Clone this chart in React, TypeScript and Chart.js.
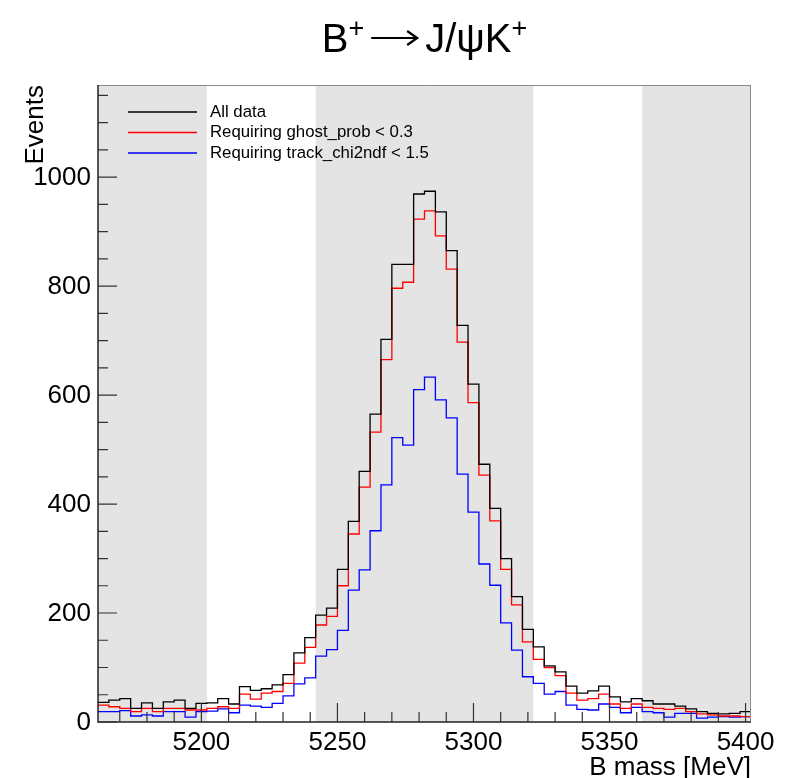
import React, { useEffect, useRef } from "react";
import { Chart, registerables } from "chart.js";

Chart.register(...registerables);

const X_MIN = 5162;
const X_MAX = 5402;
const BIN_WIDTH = 4;
const Y_MIN = 0;
const Y_MAX = 1169;

const allData = [
  36, 40, 43, 25, 35, 25, 37, 40, 25, 34,
  35, 43, 33, 65, 58, 61, 68, 87, 127, 155,
  196, 209, 280, 368, 460, 565, 702, 840, 840, 969,
  974, 936, 865, 728, 620, 473, 392, 300, 230, 170,
  138, 103, 92, 66, 53, 57, 66, 46, 37, 43,
  39, 33, 33, 29, 24, 19, 16, 15, 16, 19,
];
const ghostProbCut = [
  31, 28, 25, 19, 25, 19, 25, 25, 22, 22,
  25, 28, 25, 51, 42, 53, 56, 71, 108, 137,
  178, 194, 250, 345, 431, 532, 665, 796, 807, 923,
  938, 892, 831, 697, 586, 453, 369, 280, 215, 147,
  115, 100, 85, 53, 40, 43, 51, 33, 25, 33,
  27, 25, 23, 25, 19, 15, 13, 11, 11, 10,
];
const trackChi2Cut = [
  19, 19, 21, 11, 13, 11, 19, 19, 9, 19,
  20, 24, 17, 31, 29, 27, 34, 48, 70, 81,
  121, 133, 168, 242, 279, 351, 435, 522, 508, 610,
  633, 591, 558, 455, 385, 290, 251, 182, 132, 83,
  71, 51, 56, 31, 23, 22, 33, 27, 17, 27,
  19, 17, 9, 16, 16, 7, 9, 10, 9, 10,
];

const xTickLabels = [5200, 5250, 5300, 5350, 5400];
const xMinorStep = 10;
const yTickLabels = [0, 200, 400, 600, 800, 1000];
const yMinorStep = 50;
const bands = [
  [5162, 5202],
  [5242, 5322],
  [5362, 5402],
];
const seriesLabels = [
  "All data",
  "Requiring ghost_prob < 0.3",
  "Requiring track_chi2ndf < 1.5",
];
const seriesColors = ["#000000", "#ff0000", "#0000ff"];
const xTitle = "B mass [MeV]";
const yTitle = "Events";

const FONT = '"Liberation Sans", Arial, Helvetica, sans-serif';

function toSteps(values: number[]) {
  const pts = values.map((v, i) => ({ x: X_MIN + i * BIN_WIDTH, y: v }));
  pts.push({ x: X_MIN + values.length * BIN_WIDTH, y: values[values.length - 1] });
  return pts;
}

const rootPlugin = {
  id: "rootStyle",
  beforeDatasetsDraw(chart: any) {
    const { ctx, chartArea, scales } = chart;
    const xs = scales.x;
    ctx.save();
    ctx.fillStyle = "#e4e4e4";
    for (const [a, b] of bands) {
      const x0 = xs.getPixelForValue(a);
      const x1 = xs.getPixelForValue(b);
      ctx.fillRect(x0, chartArea.top, x1 - x0, chartArea.bottom - chartArea.top);
    }
    ctx.restore();
  },
  afterDatasetsDraw(chart: any) {
    const { ctx, chartArea, scales } = chart;
    const xs = scales.x;
    const ys = scales.y;
    const L = chartArea.left, R = chartArea.right, T = chartArea.top, B = chartArea.bottom;
    ctx.save();
    // frame
    ctx.lineWidth = 1;
    ctx.strokeStyle = "#8a8a8a";
    ctx.beginPath();
    ctx.moveTo(L, T + 0.5);
    ctx.lineTo(R, T + 0.5);
    ctx.moveTo(R - 0.5, T);
    ctx.lineTo(R - 0.5, B);
    ctx.stroke();
    ctx.strokeStyle = "#222";
    ctx.lineWidth = 1.5;
    ctx.beginPath();
    ctx.moveTo(L, T);
    ctx.lineTo(L, B);
    ctx.lineTo(R, B);
    ctx.stroke();

    // x ticks
    ctx.lineWidth = 1.2;
    ctx.strokeStyle = "#333";
    ctx.beginPath();
    const firstX = Math.ceil(X_MIN / xMinorStep) * xMinorStep;
    for (let v = firstX; v <= X_MAX; v += xMinorStep) {
      const px = xs.getPixelForValue(v);
      const major = xTickLabels.includes(v);
      ctx.moveTo(px, B);
      ctx.lineTo(px, B - (major ? 19 : 10));
    }
    // y ticks
    for (let v = Y_MIN; v <= Y_MAX; v += yMinorStep) {
      const py = ys.getPixelForValue(v);
      const major = yTickLabels.includes(v);
      ctx.moveTo(L, py);
      ctx.lineTo(L + (major ? 19 : 10), py);
    }
    ctx.stroke();

    // tick labels
    ctx.fillStyle = "#000";
    ctx.font = `26px ${FONT}`;
    ctx.textAlign = "center";
    ctx.textBaseline = "alphabetic";
    for (const v of xTickLabels) {
      ctx.fillText(String(v), xs.getPixelForValue(v), B + 28);
    }
    ctx.textAlign = "right";
    ctx.textBaseline = "middle";
    for (const v of yTickLabels) {
      ctx.fillText(String(v), L - 7, ys.getPixelForValue(v) + 1);
    }

    // axis titles
    ctx.textAlign = "right";
    ctx.textBaseline = "alphabetic";
    ctx.fillText(xTitle, R, B + 53);
    ctx.save();
    ctx.translate(43, T);
    ctx.rotate(-Math.PI / 2);
    ctx.textAlign = "right";
    ctx.fillText(yTitle, 0, 0);
    ctx.restore();

    // main title with superscripts and a drawn arrow
    const big = `40px ${FONT}`;
    const small = `27px ${FONT}`;
    const base = 52;
    const arrowW = 46;
    const gapA = 7;
    const gapB = 8;
    ctx.font = big;
    const wB = ctx.measureText("B").width;
    const wRest = ctx.measureText("J/\u03c8K").width;
    ctx.font = small;
    const wPlus = ctx.measureText("+").width;
    const total = wB + wPlus + gapA + arrowW + gapB + wRest + wPlus;
    let cx = (L + R) / 2 - total / 2;
    ctx.textAlign = "left";
    ctx.font = big;
    ctx.fillText("B", cx, base);
    cx += wB;
    ctx.font = small;
    ctx.fillText("+", cx, base - 15);
    cx += wPlus + gapA;
    // arrow
    const ay = base - 14;
    ctx.strokeStyle = "#000";
    ctx.lineWidth = 2.2;
    ctx.beginPath();
    ctx.moveTo(cx, ay);
    ctx.lineTo(cx + arrowW, ay);
    ctx.moveTo(cx + arrowW - 10, ay - 7);
    ctx.lineTo(cx + arrowW, ay);
    ctx.lineTo(cx + arrowW - 10, ay + 7);
    ctx.stroke();
    cx += arrowW + gapB;
    ctx.font = big;
    ctx.fillText("J/\u03c8K", cx, base);
    cx += wRest;
    ctx.font = small;
    ctx.fillText("+", cx, base - 15);

    // legend
    ctx.font = `16.8px ${FONT}`;
    ctx.textBaseline = "middle";
    ctx.lineWidth = 1.3;
    seriesLabels.forEach((lab, i) => {
      const yy = 112 + i * 20.5;
      ctx.strokeStyle = seriesColors[i];
      ctx.beginPath();
      ctx.moveTo(128, yy);
      ctx.lineTo(197, yy);
      ctx.stroke();
      ctx.fillStyle = "#000";
      ctx.fillText(lab, 210, yy);
    });
    ctx.restore();
  },
};

export default function App() {
  const ref = useRef<HTMLCanvasElement | null>(null);
  useEffect(() => {
    if (!ref.current) return;
    const series = [allData, ghostProbCut, trackChi2Cut];
    const chart = new Chart(ref.current, {
      type: "line",
      data: {
        datasets: series.map((vals, i) => ({
          label: seriesLabels[i],
          data: toSteps(vals),
          borderColor: seriesColors[i],
          borderWidth: 1.3,
          pointRadius: 0,
          fill: false,
          stepped: "before" as const,
          tension: 0,
        })),
      },
      options: {
        responsive: false,
        animation: false,
        devicePixelRatio: 1,
        layout: { padding: { left: 98, right: 35, top: 85, bottom: 56 } },
        plugins: { legend: { display: false }, tooltip: { enabled: false }, title: { display: false } },
        scales: {
          x: { type: "linear", min: X_MIN, max: X_MAX, display: false },
          y: { type: "linear", min: Y_MIN, max: Y_MAX, display: false },
        },
      },
      plugins: [rootPlugin],
    });
    return () => chart.destroy();
  }, []);
  return (
    <div style={{ position: "absolute", left: 0, top: 0, width: 786, height: 778, background: "#fff" }}>
      <canvas ref={ref} width={786} height={778} />
    </div>
  );
}
